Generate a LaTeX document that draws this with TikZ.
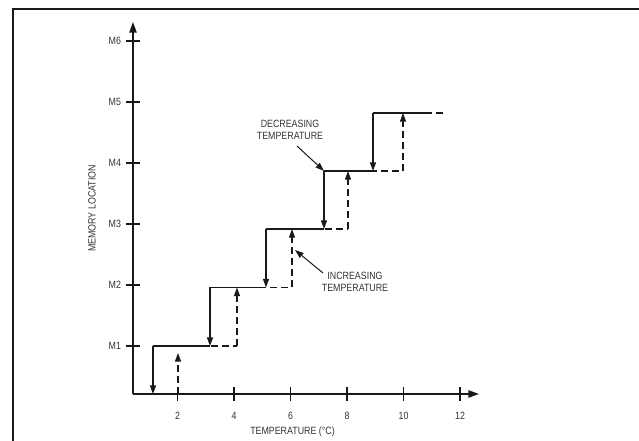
\documentclass[tikz,border=0pt]{standalone}
\usepackage{fontspec}
\setmainfont{Liberation Sans}[FakeStretch=0.84]
\usetikzlibrary{arrows.meta}

\begin{document}
\begin{tikzpicture}[draw=black!90, text=black!80, x=0.75pt, y=0.75pt, line width=1.05pt,
        font=\fontsize{7.9}{9}\selectfont, align=center]
    \tikzstyle{every node}=[inner sep=0pt];
    \tikzstyle{tip}=[-{Triangle[length=6.5pt, width=4.5pt]}];
    \tikzstyle{axis}=[-{Triangle[length=8pt, width=5.5pt]}];
    \tikzstyle{incr}=[dash pattern=on 5.25pt off 3pt];
    \tikzstyle{xlab}=[label distance=12pt];
    \tikzstyle{ylab}=[label distance=7.5pt];

    \useasboundingbox (0,0) rectangle (639,441);
    \draw[line width=1.5pt] (13,0) -- (13,432) -- (639,432);

    % axes
    \node at (133, 47) (o) {};
    \node at (133, 419) (ytop) {};
    \node at (479, 47) (xend) {};
    \draw[axis] (o.center) -- (ytop.center);
    \draw[axis] (o.center) -- (xend.center);
    \node at (92, 232.5) (ytitle) [rotate=90] {MEMORY LOCATION};
    \node at (292.5, 9) (xtitle) {TEMPERATURE (°C)};

    \node at (133, 95) (m1) [label={[ylab]left:M1}] {};
    \node at (133, 156) (m2) [label={[ylab]left:M2}] {};
    \node at (133, 217) (m3) [label={[ylab]left:M3}] {};
    \node at (133, 278) (m4) [label={[ylab]left:M4}] {};
    \node at (133, 339) (m5) [label={[ylab]left:M5}] {};
    \node at (133, 400) (m6) [label={[ylab]left:M6}] {};
    \draw (m1.center) ++(-7,0) -- ++(14,0);
    \draw (m2.center) ++(-7,0) -- ++(14,0);
    \draw (m3.center) ++(-7,0) -- ++(14,0);
    \draw (m4.center) ++(-7,0) -- ++(14,0);
    \draw (m5.center) ++(-7,0) -- ++(14,0);
    \draw (m6.center) ++(-7,0) -- ++(14,0);

    \node at (177.5, 47) (t2) [label={[xlab]below:2}] {};
    \node at (234, 47) (t4) [label={[xlab]below:4}] {};
    \node at (290.5, 47) (t6) [label={[xlab]below:6}] {};
    \node at (347, 47) (t8) [label={[xlab]below:8}] {};
    \node at (403.5, 47) (t10) [label={[xlab]below:10}] {};
    \node at (460, 47) (t12) [label={[xlab]below:12}] {};
    \draw (t2.center) ++(0,-7) -- ++(0,14);
    \draw (t4.center) ++(0,-7) -- ++(0,14);
    \draw (t6.center) ++(0,-7) -- ++(0,14);
    \draw (t8.center) ++(0,-7) -- ++(0,14);
    \draw (t10.center) ++(0,-7) -- ++(0,14);
    \draw (t12.center) ++(0,-7) -- ++(0,14);

    % decreasing temperature (solid)
    \coordinate (d0) at (426, 328);
    \coordinate (d5t) at (373, 328);
    \coordinate (d5b) at (373, 270);
    \coordinate (d4t) at (324, 270);
    \coordinate (d4b) at (324, 212);
    \coordinate (d3t) at (266, 212);
    \coordinate (d3b) at (266, 153.5);
    \coordinate (d2t) at (210, 153.5);
    \coordinate (d2b) at (210, 95);
    \coordinate (d1t) at (153, 95);
    \coordinate (d1b) at (153, 47);
    \draw (d0) -- (d5t);
    \draw[tip] (d5t) -- (d5b);
    \draw (d5b) -- (d4t);
    \draw[tip] (d4t) -- (d4b);
    \draw (d4b) -- (d3t);
    \draw[tip] (d3t) -- (d3b);
    \draw (d3b) -- (d2t);
    \draw[tip] (d2t) -- (d2b);
    \draw (d2b) -- (d1t);
    \draw[tip] (d1t) -- (d1b);

    % increasing temperature (dashed)
    \coordinate (i1b) at (178, 47);
    \coordinate (i1t) at (178, 88);
    \coordinate (i1) at (178, 95);
    \coordinate (i2b) at (237, 95);
    \coordinate (i2t) at (237, 153.5);
    \coordinate (i3b) at (292, 153.5);
    \coordinate (i3t) at (292, 212);
    \coordinate (i4b) at (348, 212);
    \coordinate (i4t) at (348, 270);
    \coordinate (i5b) at (403, 270);
    \coordinate (i5t) at (403, 328);
    \coordinate (i0) at (445, 328);
    \draw[incr, tip] (i1b) -- (i1t);
    \draw[incr] (i1) -- (i2b);
    \draw[incr, tip] (i2b) -- (i2t);
    \draw[incr] (i2t) -- (i3b);
    \draw[incr, tip] (i3b) -- (i3t);
    \draw[incr] (i3t) -- (i4b);
    \draw[incr, tip] (i4b) -- (i4t);
    \draw[incr] (i4t) -- (i5b);
    \draw[incr, tip] (i5b) -- (i5t);
    \draw[incr] (i5t) -- (i0);

    % callouts
    \node at (290, 311) (dec) {DECREASING\\TEMPERATURE};
    \coordinate (decfrom) at (297, 295);
    \draw[tip, line width=0.75pt] (decfrom) -- (d4t);
    \node at (355, 159) (inc) {INCREASING\\TEMPERATURE};
    \coordinate (incfrom) at (323, 168);
    \coordinate (incto) at (295, 191);
    \draw[tip, line width=0.75pt] (incfrom) -- (incto);
\end{tikzpicture}
\end{document}
